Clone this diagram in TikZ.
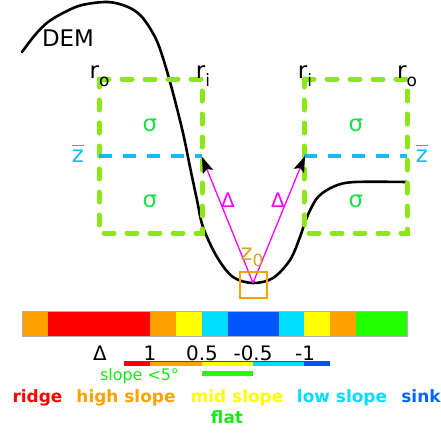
\documentclass[tikz,border=0pt]{standalone}
\usepackage{fontspec}
\setmainfont{DejaVu Sans}
\usetikzlibrary{arrows.meta}
\definecolor{boxgreen}{RGB}{140,232,20}
\definecolor{zcyan}{RGB}{25,185,235}
\definecolor{siggreen}{RGB}{25,225,70}
\definecolor{cOrange}{RGB}{255,162,0}
\definecolor{cRed}{RGB}{255,0,0}
\definecolor{cYellow}{RGB}{255,255,0}
\definecolor{cCyan}{RGB}{0,221,255}
\definecolor{cBlue}{RGB}{0,85,255}
\definecolor{cGreen}{RGB}{34,255,0}
\definecolor{lblGreen}{RGB}{20,235,20}
\definecolor{sinkBlue}{RGB}{0,100,255}
\definecolor{zgold}{RGB}{215,165,30}
\definecolor{magentaL}{RGB}{255,0,255}
\newcommand{\zbarsym}{\setbox0\hbox{z}\rlap{\rule[1.25\ht0]{\wd0}{1.6bp}}z}
\begin{document}
\begin{tikzpicture}[x=1bp,y=-1bp,
  lbl/.style={inner sep=0pt,font=\fontsize{20}{24}\selectfont},
  glbl/.style={inner sep=0pt,font=\fontsize{23}{27}\selectfont},
  big/.style={inner sep=0pt,font=\fontsize{23}{27}\selectfont},
  bold/.style={inner sep=0pt,anchor=base,font=\fontsize{17}{20}\selectfont\bfseries},
  gbox/.style={draw=boxgreen,line width=5bp,line cap=round,dash pattern=on 10bp off 13bp},
  zline/.style={draw=zcyan,line width=4bp,dash pattern=on 13bp off 11bp},
  deltaarrow/.style={draw=magentaL,line width=1.3bp,-{Stealth[length=16bp,width=11bp,inset=3bp,black]}},
  seg/.style={line width=4bp}]
\useasboundingbox (0,0) rectangle (441,432);
% DEM curve
\draw[line width=2.6bp,line cap=round] plot[smooth,tension=0.55] coordinates {
 (22,52) (35,35) (48,22) (65,12) (82,5) (108,2) (128,7) (142,17) (155,37) (163,58) (173,93) (183,133) (190,167) (197,200) (203,227) (217,257) (233,277) (253,283) (273,278) (290,260) (300,237) (307,217) (318,197) (335,186) (355,182) (407,182)};
\node[big] (dem) at (68,38) {DEM};
% boxes
\draw[gbox] (99,79) -- (202,79) -- (202,233) -- (99,233) -- cycle;
\draw[gbox] (304,79) -- (407,79) -- (407,233) -- (304,233) -- cycle;
\draw[zline] (99,156) -- (202,156);
\draw[zline] (304,156) -- (407,156);
% labels
\node[glbl,anchor=base] (roL) at (99.5,78) {r\raisebox{-0.35em}{\fontsize{17}{19}\selectfont o}};
\node[glbl,anchor=base] (riL) at (203,78) {r\raisebox{-0.35em}{\fontsize{17}{19}\selectfont i}};
\node[glbl,anchor=base] (riR) at (305,78) {r\raisebox{-0.35em}{\fontsize{17}{19}\selectfont i}};
\node[glbl,anchor=base] (roR) at (407,78) {r\raisebox{-0.35em}{\fontsize{17}{19}\selectfont o}};
\node[glbl,text=siggreen] (s1) at (150,125) {σ};
\node[glbl,text=siggreen] (s2) at (150,201) {σ};
\node[glbl,text=siggreen] (s3) at (356,125) {σ};
\node[glbl,text=siggreen] (s4) at (356,201) {σ};
\node[glbl,text=zcyan,anchor=base] (zbL) at (78,162) {\zbarsym};
\node[glbl,text=zcyan,anchor=base] (zbR) at (422,162) {\zbarsym};
% arrows
\coordinate (zp) at (253,283);
\coordinate (tipL) at (202,157);
\coordinate (tipR) at (305,156);
\draw[deltaarrow] (zp) -- (tipL);
\draw[deltaarrow] (zp) -- (tipR);
\node[lbl,text=magentaL] (dL) at (228,200) {Δ};
\node[lbl,text=magentaL] (dR) at (278,200) {Δ};
\node[glbl,text=zgold,anchor=base] (z0) at (252,260) {z\raisebox{-0.3em}{\fontsize{17}{19}\selectfont 0}};
\draw[cOrange,line width=2.6bp] (240,272) rectangle (267,298);
% colour bar
\fill[cOrange] (22,311) rectangle (48,336);
\fill[cRed] (48,311) rectangle (150,336);
\fill[cOrange] (150,311) rectangle (176,336);
\fill[cYellow] (176,311) rectangle (202,336);
\fill[cCyan] (202,311) rectangle (228,336);
\fill[cBlue] (228,311) rectangle (279,336);
\fill[cCyan] (279,311) rectangle (304,336);
\fill[cYellow] (304,311) rectangle (330,336);
\fill[cOrange] (330,311) rectangle (356,336);
\fill[cGreen] (356,311) rectangle (407,336);
\draw[gray!60,line width=0.6bp] (22,311) rectangle (407,336);
% scale
\node[lbl,anchor=base] (dl) at (100,360) {Δ};
\node[lbl,anchor=base] (n1) at (150,360) {1};
\node[lbl,anchor=base] (n2) at (202,360) {0.5};
\node[lbl,anchor=base] (n3) at (253,360) {-0.5};
\node[lbl,anchor=base] (n4) at (305,360) {-1};
\draw[seg,cRed] (124,363.5) -- (150,363.5);
\draw[seg,cOrange] (150,363.5) -- (202,363.5);
\draw[seg,cYellow] (202,363.5) -- (253,363.5);
\draw[seg,cCyan] (253,363.5) -- (304,363.5);
\draw[seg,cBlue] (304,363.5) -- (330,363.5);
\draw[line width=0.6bp,black!70] (124,361.5) -- (330,361.5);
\draw[line width=5bp,cGreen] (202,373.5) -- (253,373.5);
\node[inner sep=0pt,text=lblGreen,font=\fontsize{16}{19}\selectfont] (slope) at (139.5,376) {slope <5°};
% category labels
\node[bold,text=cRed] (ridge) at (37.5,402) {ridge};
\node[bold,text=cOrange] (high) at (126,402) {high slope};
\node[bold,text=cYellow] (mid) at (237,402) {mid slope};
\node[bold,text=cCyan] (low) at (342,402) {low slope};
\node[bold,text=sinkBlue] (sink) at (421,402) {sink};
\node[bold,text=lblGreen] (flat) at (227,423) {flat};
\end{tikzpicture}
\end{document}
